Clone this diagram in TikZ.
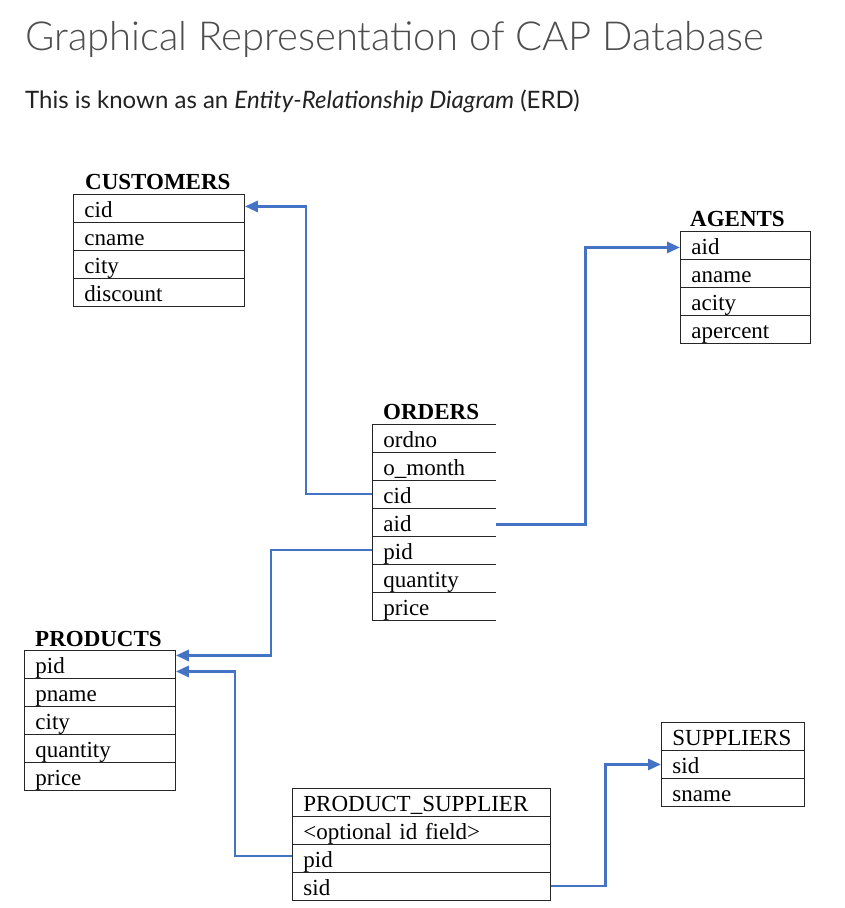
\documentclass[tikz,border=0pt]{standalone}
\usepackage{fontspec}
\setmainfont{Liberation Serif}
\newfontfamily\latofont{Lato}
\newfontfamily\latolight{Lato Light}
\usetikzlibrary{arrows.meta}

\definecolor{linkblue}{HTML}{4472C4}
\definecolor{titlegray}{HTML}{4D4D4D}
\definecolor{subgray}{HTML}{222222}

\begin{document}
\begin{tikzpicture}[
        x=1pt, y=-1pt,
        field/.style={
            draw=black!85,
            line width=0.9pt,
            anchor=north west,
            inner xsep=11pt,
            inner ysep=0pt,
            text width=#1,
            align=left,
            text height=23pt,
            text depth=5pt,
            font=\fontsize{23}{28}\selectfont
        },
        openfield/.style={
            field=#1,
            draw=none
        },
        heading/.style={
            anchor=base west,
            inner sep=0pt,
            font=\bfseries\fontsize{23}{28}\selectfont
        },
        border/.style={
            draw=black!85,
            line width=0.9pt
        },
        link/.style={
            draw=linkblue,
            line width=2.9pt,
            -{Triangle[length=13pt,width=11pt]}
        }
    ]

    \useasboundingbox[fill=white] (0,0) rectangle (845,908);

    % Title lines
    \node[anchor=base west, inner sep=0pt, text=titlegray,
          font=\latolight\fontsize{40}{46}\selectfont] (title) at (25,50)
        {Graphical Representation of CAP Database};
    \node[anchor=base west, inner sep=0pt, text=subgray,
          font=\latofont\fontsize{24}{28}\selectfont] (subtitle) at (25,108)
        {This is known as an \textit{Entity-Relationship Diagram} (ERD)};

    % CUSTOMERS
    \node[heading] (custhead) at (85,189) {CUSTOMERS};
    \foreach \f [count=\i] in {cid, cname, city, discount}
        \node[field=149pt] (cust\i) at (73,{194+28*(\i-1)}) {\f};

    % AGENTS
    \node[heading] (agthead) at (690,226) {AGENTS};
    \foreach \f [count=\i] in {aid, aname, acity, apercent}
        \node[field=108pt] (agt\i) at (680,{231+28*(\i-1)}) {\f};

    % ORDERS (no right border)
    \node[heading] (ordhead) at (383,419) {ORDERS};
    \foreach \f [count=\i] in {ordno, o\_month, cid, aid, pid, quantity, price}
        \node[openfield=101pt] (ord\i) at (372,{424+28*(\i-1)}) {\f};
    \draw[border] (ord1.north east) -- (ord1.north west) -- (ord7.south west);
    \foreach \i in {1,...,7}
        \draw[border] (ord\i.south west) -- (ord\i.south east);

    % PRODUCTS
    \node[heading] (prodhead) at (35,646) {PRODUCTS};
    \foreach \f [count=\i] in {pid, pname, city, quantity, price}
        \node[field=129pt] (prod\i) at (24,{650+28*(\i-1)}) {\f};

    % PRODUCT_SUPPLIER
    \foreach \f [count=\i] in {PRODUCT\_SUPPLIER, <optional id field>, pid, sid}
        \node[field=236pt] (ps\i) at (292,{788+28*(\i-1)}) {\f};

    % SUPPLIERS
    \foreach \f [count=\i] in {SUPPLIERS, sid, sname}
        \node[field=121pt] (sup\i) at (661,{722+28*(\i-1)}) {\f};

    % Foreign keys
    \draw[link] ([yshift=-14pt]ord3.north west) -- ++(-66,0) |- ([yshift=2pt]cust1.east);
    \draw[link] ([yshift=-2pt]ord4.east) -- ++(90,0) |- ([yshift=-2pt]agt1.west);
    \draw[link] ([yshift=-14pt]ord5.north west) -- ++(-101,0) |- ([yshift=9pt]prod1.east);
    \draw[link] ([yshift=-12pt]ps3.north west) -- ++(-57,0) |- ([yshift=-7pt]prod1.east);
    \draw[link] ([yshift=-14pt]ps4.north east) -- ++(55,0) |- (sup2.east -| sup2.west);

\end{tikzpicture}
\end{document}
